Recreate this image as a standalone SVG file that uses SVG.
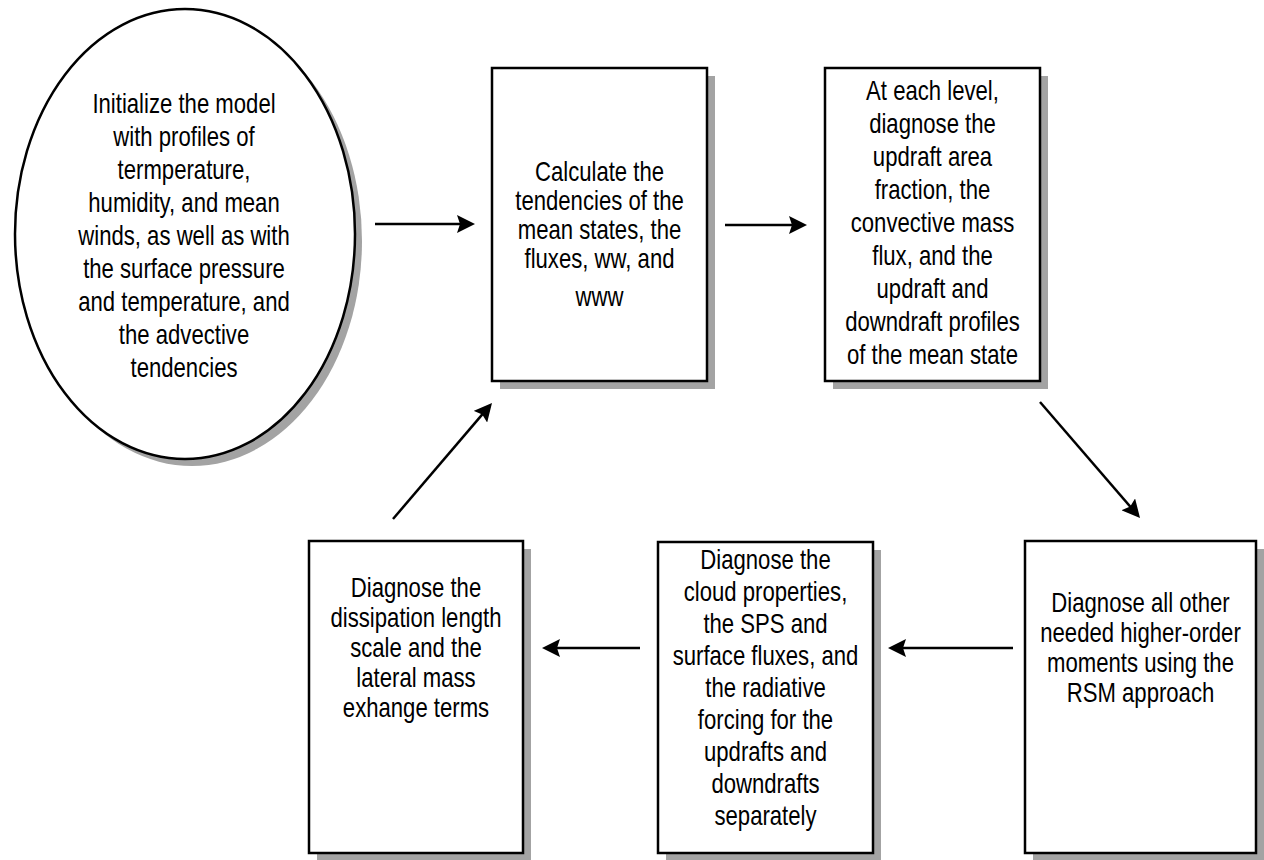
<svg xmlns="http://www.w3.org/2000/svg" width="1264" height="860" viewBox="0 0 1264 860">
<style>
.bg{fill:#fff}
.node{fill:#fff;stroke:#000;stroke-width:2.5}
.shadow{fill:#a3a3a3}
.t{font-family:"Liberation Sans",Arial,Helvetica,sans-serif;font-size:27px;text-anchor:middle;fill:#000}
.conn{stroke:#000;stroke-width:2.5;fill:none;marker-end:url(#ah)}
</style>
<defs>
<marker id="ah" markerUnits="userSpaceOnUse" viewBox="0 0 18 18" refX="10" refY="9" markerWidth="18" markerHeight="18" orient="auto">
<path d="M0,0 L18,9 L0,18 L3,9 z" fill="#000"/>
</marker>
</defs>
<rect class="bg" x="0" y="0" width="1264" height="860"/>

<g id="n-init">
<ellipse class="shadow" cx="192" cy="241" rx="170" ry="225"/>
<ellipse class="node" cx="185" cy="234" rx="170" ry="225"/>
<g transform="translate(184 0) scale(0.82 1)">
<text class="t" x="0" y="113">Initialize the model</text>
<text class="t" x="0" y="146">with profiles of</text>
<text class="t" x="0" y="179">termperature,</text>
<text class="t" x="0" y="212">humidity, and mean</text>
<text class="t" x="0" y="245">winds, as well as with</text>
<text class="t" x="0" y="278">the surface pressure</text>
<text class="t" x="0" y="311">and temperature, and</text>
<text class="t" x="0" y="344">the advective</text>
<text class="t" x="0" y="377">tendencies</text>
</g>
</g>

<g id="n-calc">
<rect class="shadow" x="500" y="76" width="215" height="313"/>
<rect class="node" x="492" y="68" width="215" height="313"/>
<g transform="translate(599.5 0) scale(0.82 1)">
<text class="t" x="0" y="181">Calculate the</text>
<text class="t" x="0" y="210">tendencies of the</text>
<text class="t" x="0" y="239">mean states, the</text>
<text class="t" x="0" y="268">fluxes, ww,  and</text>
<text class="t" x="0" y="306">www</text>
</g>
</g>

<g id="n-level">
<rect class="shadow" x="833" y="76" width="215" height="313"/>
<rect class="node" x="825" y="68" width="215" height="313"/>
<g transform="translate(932.5 0) scale(0.82 1)">
<text class="t" x="0" y="100">At each level,</text>
<text class="t" x="0" y="133">diagnose the</text>
<text class="t" x="0" y="166">updraft area</text>
<text class="t" x="0" y="199">fraction, the</text>
<text class="t" x="0" y="232">convective mass</text>
<text class="t" x="0" y="265">flux, and the</text>
<text class="t" x="0" y="298">updraft and</text>
<text class="t" x="0" y="331">downdraft profiles</text>
<text class="t" x="0" y="364">of the mean state</text>
</g>
</g>

<g id="n-rsm">
<rect class="shadow" x="1033" y="549" width="231" height="312"/>
<rect class="node" x="1025" y="541" width="231" height="312"/>
<g transform="translate(1140.5 0) scale(0.82 1)">
<text class="t" x="0" y="612">Diagnose all other</text>
<text class="t" x="0" y="642">needed higher-order</text>
<text class="t" x="0" y="672">moments using the</text>
<text class="t" x="0" y="702">RSM approach</text>
</g>
</g>

<g id="n-cloud">
<rect class="shadow" x="666" y="550" width="215" height="311"/>
<rect class="node" x="658" y="542" width="215" height="311"/>
<g transform="translate(765.5 0) scale(0.82 1)">
<text class="t" x="0" y="569">Diagnose the</text>
<text class="t" x="0" y="601">cloud properties,</text>
<text class="t" x="0" y="633">the SPS and</text>
<text class="t" x="0" y="665">surface fluxes, and</text>
<text class="t" x="0" y="697">the radiative</text>
<text class="t" x="0" y="729">forcing for the</text>
<text class="t" x="0" y="761">updrafts and</text>
<text class="t" x="0" y="793">downdrafts</text>
<text class="t" x="0" y="825">separately</text>
</g>
</g>

<g id="n-dissip">
<rect class="shadow" x="317" y="549" width="214" height="312"/>
<rect class="node" x="309" y="541" width="214" height="312"/>
<g transform="translate(416 0) scale(0.82 1)">
<text class="t" x="0" y="597">Diagnose the</text>
<text class="t" x="0" y="627">dissipation length</text>
<text class="t" x="0" y="657">scale and  the</text>
<text class="t" x="0" y="687">lateral mass</text>
<text class="t" x="0" y="717">exhange terms</text>
</g>
</g>

<g id="connectors">
<line class="conn" x1="375" y1="224" x2="467" y2="224"/>
<line class="conn" x1="725" y1="225" x2="799" y2="225"/>
<line class="conn" x1="1040" y1="402" x2="1134.8" y2="511.9"/>
<line class="conn" x1="1013" y1="648" x2="896" y2="648"/>
<line class="conn" x1="640" y1="648" x2="550" y2="648"/>
<line class="conn" x1="393" y1="519" x2="486.8" y2="409.1"/>
</g>
</svg>
